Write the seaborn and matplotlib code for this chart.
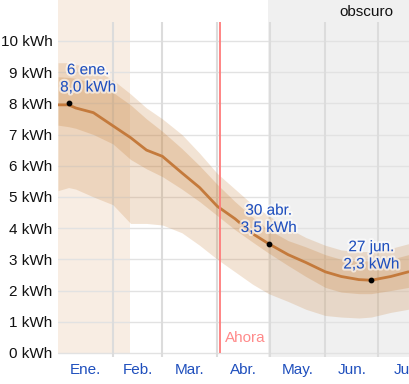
import numpy as np
import pandas as pd
import seaborn as sns
import matplotlib.pyplot as plt
import matplotlib.patheffects as pe

# days since 1 Jan and values (kWh)
days = [0, 6, 10, 20, 31, 41, 50, 59, 70, 80, 90, 100, 110, 119, 130, 140, 151, 160, 170, 177, 188, 198]
median = [7.95, 7.95, 7.85, 7.7, 7.28, 6.9, 6.5, 6.3, 5.77, 5.3, 4.7, 4.3, 3.82, 3.5, 3.15, 2.9, 2.6, 2.45, 2.35, 2.33, 2.45, 2.6]
inner_hi = [8.85, 8.83, 8.8, 8.65, 8.35, 7.95, 7.5, 7.1, 6.55, 6.0, 5.4, 4.85, 4.35, 3.95, 3.6, 3.4, 3.15, 3.0, 2.95, 2.95, 3.0, 3.15]
inner_lo = [7.3, 7.25, 7.2, 7.0, 6.7, 6.2, 5.9, 5.65, 5.25, 4.85, 4.4, 3.95, 3.55, 3.2, 2.8, 2.45, 2.1, 1.95, 1.9, 1.9, 2.0, 2.1]
outer_hi = [9.3, 9.3, 9.25, 9.1, 8.75, 8.3, 7.85, 7.5, 7.0, 6.4, 5.75, 5.25, 4.75, 4.4, 4.0, 3.7, 3.45, 3.3, 3.25, 3.25, 3.35, 3.5]
outer_lo = [5.2, 5.3, 5.25, 5.0, 4.75, 4.15, 4.15, 4.1, 3.85, 3.45, 3.0, 2.6, 2.2, 1.9, 1.65, 1.4, 1.2, 1.15, 1.12, 1.15, 1.3, 1.4]

month_starts = [31, 59, 90, 120, 151, 181]
month_mid = [15.5, 45, 74.5, 105, 135.5, 166, 196.5]
month_labels = ["Ene.", "Feb.", "Mar.", "Abr.", "May.", "Jun.", "Jul."]

marks_day = [6, 119, 177]
marks_val = [8.0, 3.5, 2.33]
marks_text = ["6 ene.\n8,0 kWh", "30 abr.\n3,5 kWh", "27 jun.\n2,3 kWh"]
now_day = 91.5

sns.set_theme(style="white")
plt.rcParams["font.family"] = ["Liberation Sans", "DejaVu Sans"]

df = pd.DataFrame({"day": days, "median": median})

fig = plt.figure(figsize=(4.09, 3.84), dpi=100)
ax = fig.add_axes([0.1418, 0.0703, 0.8582, 0.9297])
ymin, ymax = -0.13, 11.31
ax.set_xlim(0, 198.3)
ax.set_ylim(ymin, ymax)

# background periods
ax.fill_between([0, 40.7], 0, ymax, color="#f8ede3", lw=0, zorder=0)
ax.axvspan(118.6, 200, color="#f0f0f0", lw=0, zorder=0)

# grid
for v in range(0, 11):
    ax.axhline(v, color="#e2e2e2", lw=1, zorder=1)
ax.vlines(month_starts, ymin, 10.6, color="#dcdcdc", lw=1.5, zorder=1)

# bands
ax.fill_between(days, outer_lo, outer_hi, color="#c8823c", alpha=0.22, lw=0, zorder=2)
ax.fill_between(days, inner_lo, inner_hi, color="#c8823c", alpha=0.25, lw=0, zorder=2)
sns.lineplot(data=df, x="day", y="median", ax=ax, color="#c47a3c", lw=2, zorder=3)

# now line
ax.vlines([now_day], 0, 10.6, color="#ff7b7b", lw=1.3, zorder=4)
ax.text(now_day + 3, 0.48, "Ahora", color="#ff8a8a", fontsize=11, va="center", ha="left", zorder=5)

ax.text(174, 10.93, "obscuro", color="#111111", fontsize=11, ha="center", va="center")

# marked points
ax.scatter(marks_day, marks_val, s=10, color="black", zorder=6)
offsets = [11, 0, 0]
for d, v, t, o in zip(marks_day, marks_val, marks_text, offsets):
    ax.text(d + o, v + 0.28, t, color="#1f4fbd", fontsize=11, ha="center", va="bottom",
            linespacing=1.3, zorder=6,
            path_effects=[pe.withStroke(linewidth=3, foreground="white", alpha=0.6)])

ax.set_yticks(range(0, 11))
ax.set_yticklabels([f"{v} kWh" for v in range(0, 11)], fontsize=11, color="#111111")
ax.set_xticks(month_mid)
ax.set_xticklabels(month_labels, fontsize=11, color="#1f4fbd")
ax.tick_params(axis="both", length=0, pad=4)
ax.set_xlabel("")
ax.set_ylabel("")
for s in ax.spines.values():
    s.set_visible(False)

fig.savefig("out.png", dpi=100)
